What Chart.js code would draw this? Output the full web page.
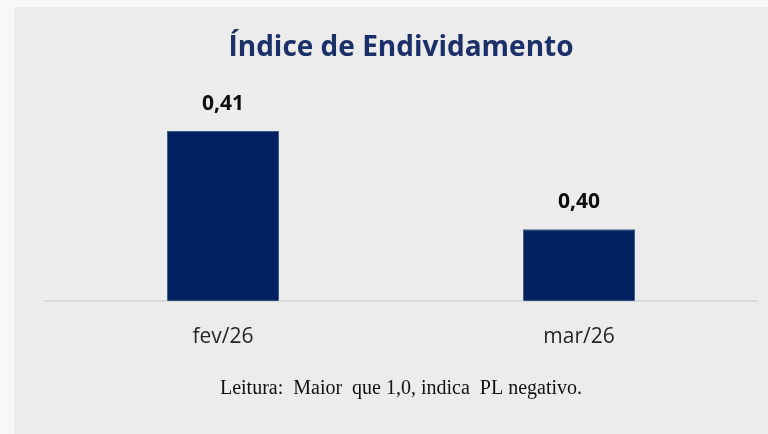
<!DOCTYPE html>
<html>
<head>
<meta charset="utf-8">
<script src="https://cdn.jsdelivr.net/npm/chart.js@4"></script>
<style>
    html, body { margin: 0; padding: 0; background: #f8f8f8; }
    #wrap { position: relative; width: 768px; height: 434px; }
</style>
</head>
<body>
<div id="wrap"><canvas id="chart" width="768" height="434"></canvas></div>
<script>
// Chart data
const categories = ['fev/26', 'mar/26'];
const values = [0.412, 0.401];
const axisMin = 0.393;
const axisMax = 0.4172;

// Grey panel behind the chart (left/top margins stay light)
const panelBg = {
    id: 'panelBg',
    beforeDraw(chart) {
        const ctx = chart.ctx;
        ctx.save();
        ctx.fillStyle = '#ececec';
        ctx.fillRect(14, 7, chart.width - 14, chart.height - 7);
        ctx.restore();
    }
};

// Value labels above each bar
const valueLabels = {
    id: 'valueLabels',
    afterDatasetsDraw(chart) {
        const ctx = chart.ctx;
        const meta = chart.getDatasetMeta(0);
        ctx.save();
        ctx.font = 'bold 21px "Open Sans"';
        ctx.fillStyle = '#0d0d0d';
        ctx.textAlign = 'center';
        ctx.textBaseline = 'middle';
        meta.data.forEach((bar, i) => {
            ctx.fillText(values[i].toFixed(2).replace('.', ','), bar.x, bar.y - 27);
        });
        ctx.restore();
    }
};

new Chart(document.getElementById('chart'), {
    type: 'bar',
    data: {
        labels: categories,
        datasets: [{
            data: values,
            backgroundColor: '#002060',
            borderColor: '#41598b',
            borderWidth: 1,
            categoryPercentage: 1,
            barPercentage: 0.315
        }]
    },
    options: {
        responsive: false,
        animation: false,
        layout: { padding: { left: 45, right: 11 } },
        plugins: {
            legend: { display: false },
            tooltip: { enabled: false },
            title: {
                display: true,
                text: 'Índice de Endividamento',
                color: '#1b3068',
                font: { family: 'Open Sans', size: 28, weight: 'bold' },
                padding: { top: 31, bottom: 20 }
            },
            subtitle: {
                display: true,
                position: 'bottom',
                text: 'Leitura:  Maior  que 1,0, indica  PL negativo.',
                color: '#111111',
                font: { family: 'Liberation Serif', size: 20 },
                padding: { top: 11, bottom: 33 }
            }
        },
        scales: {
            x: {
                grid: { display: false },
                border: { display: true, color: '#d9d9d9', width: 2 },
                ticks: {
                    color: '#262626',
                    padding: 16,
                    font: { family: 'Open Sans', size: 21 }
                }
            },
            y: {
                display: false,
                min: axisMin,
                max: axisMax
            }
        }
    },
    plugins: [panelBg, valueLabels]
});
</script>
</body>
</html>
